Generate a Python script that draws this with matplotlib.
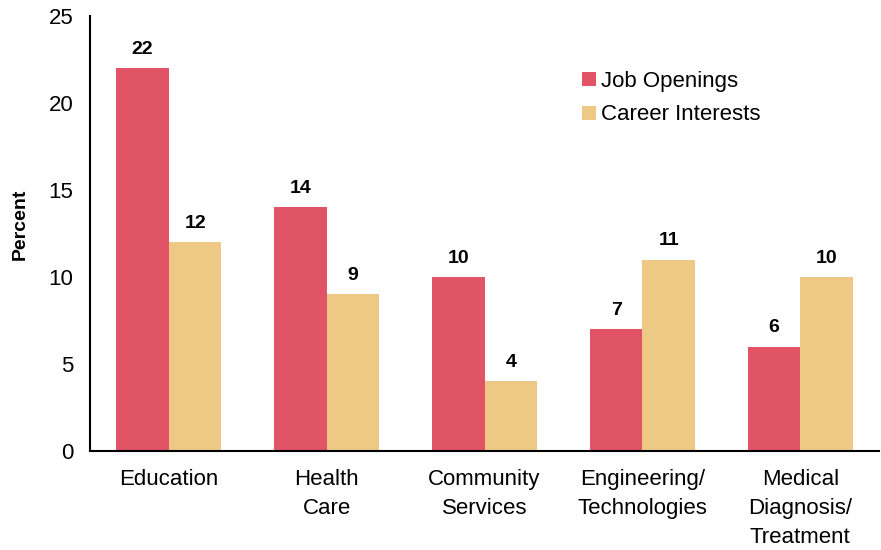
import matplotlib
matplotlib.use("Agg")
import matplotlib.pyplot as plt
import numpy as np

categories = ["Education", "Health\nCare", "Community\nServices", "Engineering/\nTechnologies", "Medical\nDiagnosis/\nTreatment"]
job_openings = [22, 14, 10, 7, 6]
career_interests = [12, 9, 4, 11, 10]
series_names = ["Job Openings", "Career Interests"]
colors = ["#E05466", "#EDC985"]

plt.rcParams['font.family'] = ['Liberation Sans', 'DejaVu Sans']

fig = plt.figure(figsize=(8.81, 5.5), dpi=100)
ax = fig.add_axes([0.102, 0.18, 0.896, 0.791])

x = np.arange(len(categories))
w = 1/3
b1 = ax.bar(x - w/2, job_openings, w, color=colors[0], label=series_names[0])
b2 = ax.bar(x + w/2, career_interests, w, color=colors[1], label=series_names[1])

for bars, vals in [(b1, job_openings), (b2, career_interests)]:
    for r, v in zip(bars, vals):
        ax.text(r.get_x() + r.get_width()/2, v + 0.6, str(v), ha='center', va='bottom',
                fontsize=14, fontweight='bold')

ax.set_xlim(-0.5, len(categories) - 0.5)
ax.set_ylim(0, 25)
ax.set_yticks([0, 5, 10, 15, 20, 25])
ax.set_xticks(x)
ax.set_xticklabels(categories, fontsize=16, linespacing=1.5, va='top')
ax.tick_params(axis='both', length=0, labelsize=16)
ax.tick_params(axis='x', pad=13)
ax.tick_params(axis='y', pad=12)
ax.spines['top'].set_visible(False)
ax.spines['right'].set_visible(False)
ax.spines['left'].set_linewidth(1.5)
ax.spines['bottom'].set_linewidth(1.5)
ax.set_ylabel("Percent", fontsize=14, fontweight='bold')
ax.yaxis.set_label_coords(-0.078, 0.52)

leg = ax.legend(loc='upper left', bbox_to_anchor=(0.624, 0.873), frameon=False, fontsize=16,
                handlelength=0.6, handleheight=0.6, handletextpad=0.25, labelspacing=0.55,
                borderpad=0, borderaxespad=0)

fig.savefig("out.png", dpi=100)
